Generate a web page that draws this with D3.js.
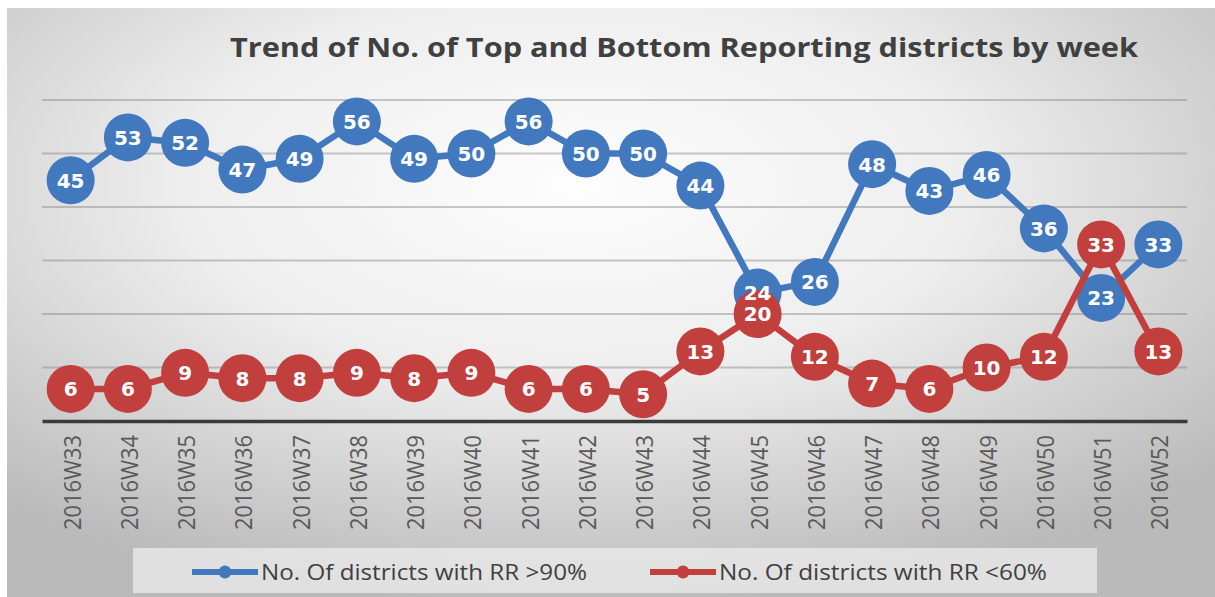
<!DOCTYPE html>
<html>
<head>
<meta charset="utf-8">
<script src="https://cdn.jsdelivr.net/npm/d3@7"></script>
<style>
  body { margin: 0; background: #fff; }
</style>
</head>
<body>
<div id="chart-area"></div>
<script>
// data
var weeks = ["2016W33","2016W34","2016W35","2016W36","2016W37","2016W38","2016W39",
    "2016W40","2016W41","2016W42","2016W43","2016W44","2016W45","2016W46",
    "2016W47","2016W48","2016W49","2016W50","2016W51","2016W52"];
var topValues = [45,53,52,47,49,56,49,50,56,50,50,44,24,26,48,43,46,36,23,33];
var bottomValues = [6,6,9,8,8,9,8,9,6,6,5,13,20,12,7,6,10,12,33,13];
var yTicks = [10,20,30,40,50,60];
var seriesNames = ["No. Of districts with RR >90%", "No. Of districts with RR <60%"];
var seriesColors = ["#4178be", "#c13f3d"];

var W = 1215, H = 597;
var margin = { left: 42, right: 28, top: 100, bottom: 176 };
var width = W - margin.left - margin.right,
    height = H - margin.top - margin.bottom;

var svg = d3.select("#chart-area").append("svg")
    .attr("width", W)
    .attr("height", H);

// background gradient
var defs = svg.append("defs");
var grad = defs.append("radialGradient")
    .attr("id", "bg")
    .attr("cx", 0.47).attr("cy", 0.3)
    .attr("r", 0.72);
grad.append("stop").attr("offset", "0").attr("stop-color", "#fdfdfd");
grad.append("stop").attr("offset", "0.45").attr("stop-color", "#eeeeee");
grad.append("stop").attr("offset", "1").attr("stop-color", "#bababa");

svg.append("rect")
    .attr("x", 7).attr("y", 8)
    .attr("width", W - 7).attr("height", H - 8)
    .attr("fill", "url(#bg)");

var g = svg.append("g")
    .attr("transform", "translate(" + margin.left + "," + margin.top + ")");

// title
svg.append("text")
    .attr("x", 684)
    .attr("y", 57)
    .attr("text-anchor", "middle")
    .attr("font-family", "'Open Sans', sans-serif")
    .attr("font-weight", "bold")
    .attr("font-size", "27px")
    .attr("fill", "#404040")
    .attr("textLength", 908)
    .attr("lengthAdjust", "spacingAndGlyphs")
    .text("Trend of No. of Top and Bottom Reporting districts by week");

// scales
var x = d3.scalePoint()
    .domain(weeks)
    .range([0, width])
    .padding(0.5);

var y = d3.scaleLinear()
    .domain([0, 60])
    .range([height, 0]);

// gridlines
g.append("g")
    .attr("class", "grid")
    .selectAll("line")
    .data(yTicks)
    .enter().append("line")
        .attr("x1", 0).attr("x2", width)
        .attr("y1", function(d){ return y(d); })
        .attr("y2", function(d){ return y(d); })
        .attr("stroke", "#7a7a7a")
        .attr("stroke-opacity", 0.4)
        .attr("stroke-width", 2);

// x axis
var xAxisCall = d3.axisBottom(x).tickSize(0).tickPadding(0);
var xAxis = g.append("g")
    .attr("class", "x axis")
    .attr("transform", "translate(0," + height + ")")
    .call(xAxisCall);
xAxis.select(".domain")
    .attr("stroke", "#3a3a3a")
    .attr("stroke-width", 3.5);
xAxis.selectAll("text")
    .attr("transform", "rotate(-90)")
    .attr("x", -14)
    .attr("y", 1.5)
    .attr("dy", "0.35em")
    .attr("text-anchor", "end")
    .attr("font-family", "'Open Sans', sans-serif")
    .attr("font-size", "23px")
    .attr("fill", "#595959")
    .attr("textLength", 95)
    .attr("lengthAdjust", "spacingAndGlyphs");

// series
var series = [topValues, bottomValues];
var line = d3.line()
    .x(function(d, i){ return x(weeks[i]); })
    .y(function(d){ return y(d); });

series.forEach(function(vals, s) {
    var sg = g.append("g").attr("class", "series-" + s);
    sg.append("path")
        .datum(vals)
        .attr("d", line)
        .attr("fill", "none")
        .attr("stroke", seriesColors[s])
        .attr("stroke-width", 6.5)
        .attr("stroke-linejoin", "round");
    sg.selectAll("circle")
        .data(vals)
        .enter().append("circle")
            .attr("cx", function(d, i){ return x(weeks[i]); })
            .attr("cy", function(d){ return y(d); })
            .attr("r", 24)
            .attr("fill", seriesColors[s]);
});

// data labels on top of everything
series.forEach(function(vals, s) {
    g.append("g").selectAll("text")
        .data(vals)
        .enter().append("text")
            .attr("x", function(d, i){ return x(weeks[i]); })
            .attr("y", function(d){ return y(d); })
            .attr("dy", "0.37em")
            .attr("text-anchor", "middle")
            .attr("font-family", "'DejaVu Sans', sans-serif")
            .attr("font-weight", "bold")
            .attr("font-size", "20px")
            .attr("fill", "#ffffff")
            .text(function(d){ return d; });
});

// legend
var legend = svg.append("g").attr("class", "legend");
legend.append("rect")
    .attr("x", 133).attr("y", 548)
    .attr("width", 964).attr("height", 45)
    .attr("fill", "#ececec")
    .attr("fill-opacity", 0.75);

var legendX = [192, 650];
var legendTextW = [326, 328];
seriesNames.forEach(function(name, s) {
    var lx = legendX[s];
    legend.append("line")
        .attr("x1", lx).attr("x2", lx + 66)
        .attr("y1", 572).attr("y2", 572)
        .attr("stroke", seriesColors[s])
        .attr("stroke-width", 6);
    legend.append("circle")
        .attr("cx", lx + 33).attr("cy", 572)
        .attr("r", 6.5)
        .attr("fill", seriesColors[s]);
    legend.append("text")
        .attr("x", lx + 69)
        .attr("y", 572)
        .attr("dy", "0.36em")
        .attr("font-family", "'Open Sans', sans-serif")
        .attr("font-size", "22px")
        .attr("fill", "#404040")
        .attr("textLength", legendTextW[s])
        .attr("lengthAdjust", "spacingAndGlyphs")
        .text(name);
});
</script>
</body>
</html>
